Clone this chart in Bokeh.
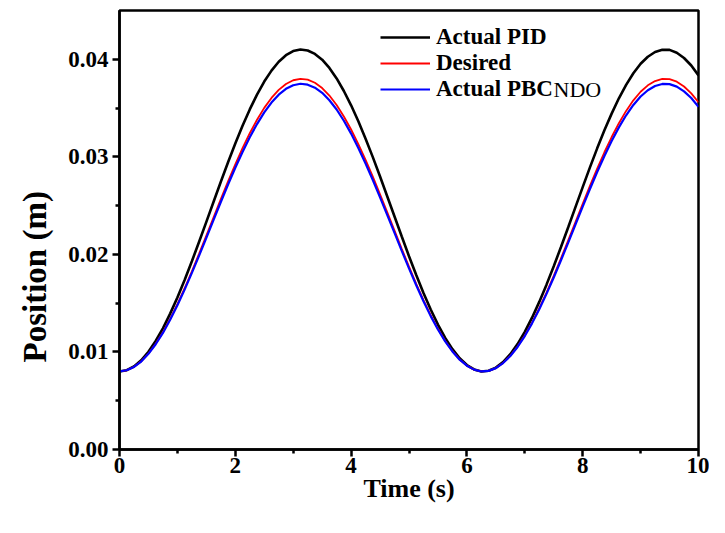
from bokeh.plotting import figure
from bokeh.models import Range1d, FixedTicker, PrintfTickFormatter, Label, Title
from bokeh.embed import file_html
from bokeh.resources import INLINE

time_s = [i * 0.125 for i in range(81)]
desired = [0.00800, 0.00812, 0.00847, 0.00904, 0.00984, 0.01084, 0.01202, 0.01339, 0.01490, 0.01653,
           0.01827, 0.02008, 0.02194, 0.02381, 0.02567, 0.02749, 0.02924, 0.03089, 0.03242, 0.03380,
           0.03502, 0.03604, 0.03686, 0.03747, 0.03785, 0.03800, 0.03791, 0.03759, 0.03705, 0.03628,
           0.03531, 0.03414, 0.03280, 0.03131, 0.02969, 0.02797, 0.02616, 0.02431, 0.02244, 0.02057,
           0.01874, 0.01699, 0.01532, 0.01377, 0.01237, 0.01113, 0.01008, 0.00923, 0.00860, 0.00819,
           0.00800, 0.00806, 0.00835, 0.00887, 0.00961, 0.01055, 0.01169, 0.01301, 0.01448, 0.01609,
           0.01780, 0.01960, 0.02144, 0.02332, 0.02518, 0.02702, 0.02879, 0.03047, 0.03203, 0.03345,
           0.03471, 0.03579, 0.03667, 0.03733, 0.03777, 0.03798, 0.03796, 0.03770, 0.03721, 0.03651,
           0.03559]
actual_pid = [0.00800, 0.00813, 0.00852, 0.00914, 0.01002, 0.01112, 0.01242, 0.01393, 0.01559, 0.01738,
              0.01930, 0.02129, 0.02333, 0.02539, 0.02744, 0.02944, 0.03136, 0.03318, 0.03486, 0.03638,
              0.03772, 0.03884, 0.03975, 0.04042, 0.04084, 0.04100, 0.04090, 0.04055, 0.03996, 0.03911,
              0.03804, 0.03675, 0.03528, 0.03364, 0.03186, 0.02997, 0.02798, 0.02594, 0.02388, 0.02183,
              0.01981, 0.01789, 0.01605, 0.01435, 0.01281, 0.01144, 0.01029, 0.00935, 0.00866, 0.00821,
              0.00800, 0.00807, 0.00839, 0.00896, 0.00977, 0.01081, 0.01206, 0.01351, 0.01513, 0.01690,
              0.01878, 0.02076, 0.02278, 0.02485, 0.02690, 0.02892, 0.03087, 0.03272, 0.03443, 0.03600,
              0.03738, 0.03857, 0.03954, 0.04026, 0.04075, 0.04098, 0.04096, 0.04067, 0.04013, 0.03936,
              0.03835]
actual_pbc = [0.00800, 0.00812, 0.00846, 0.00902, 0.00981, 0.01079, 0.01195, 0.01330, 0.01478, 0.01639,
              0.01810, 0.01988, 0.02170, 0.02354, 0.02537, 0.02716, 0.02888, 0.03050, 0.03201, 0.03336,
              0.03456, 0.03556, 0.03637, 0.03697, 0.03734, 0.03749, 0.03740, 0.03709, 0.03656, 0.03580,
              0.03485, 0.03370, 0.03238, 0.03091, 0.02932, 0.02763, 0.02585, 0.02403, 0.02220, 0.02036,
              0.01856, 0.01684, 0.01520, 0.01367, 0.01230, 0.01108, 0.01005, 0.00921, 0.00859, 0.00819,
              0.00800, 0.00806, 0.00834, 0.00886, 0.00958, 0.01051, 0.01163, 0.01293, 0.01437, 0.01595,
              0.01763, 0.01940, 0.02121, 0.02306, 0.02489, 0.02670, 0.02844, 0.03009, 0.03162, 0.03302,
              0.03426, 0.03532, 0.03618, 0.03683, 0.03726, 0.03747, 0.03745, 0.03720, 0.03671, 0.03603,
              0.03512]

x_major = [0, 2, 4, 6, 8, 10]
x_minor = [1, 3, 5, 7, 9]
y_major = [0.00, 0.01, 0.02, 0.03, 0.04]
y_minor = [0.005, 0.015, 0.025, 0.035]

FONT = "Liberation Serif"

p = figure(width=709, height=517, output_backend="svg", toolbar_location=None,
           x_range=Range1d(0, 10), y_range=Range1d(0, 0.045),
           min_border_left=119, min_border_right=11, min_border_top=10, min_border_bottom=68)
p.grid.visible = False
p.background_fill_color = "white"
p.border_fill_color = "white"
p.outline_line_color = "black"
p.outline_line_width = 2.5

p.line(time_s, actual_pid, color="black", line_width=2.6, legend_label="Actual PID")
p.line(time_s, desired, color="#ff0000", line_width=1.8, legend_label="Desired")
p.line(time_s, actual_pbc, color="#0000ff", line_width=2.2, legend_label="Actual PBC")

for ax, maj, mn in ((p.xaxis[0], x_major, x_minor), (p.yaxis[0], y_major, y_minor)):
    ax.ticker = FixedTicker(ticks=maj, minor_ticks=mn)
    ax.axis_line_width = 2.5
    ax.major_tick_line_width = 2.5
    ax.minor_tick_line_width = 2.5
    ax.major_tick_out = 7
    ax.major_tick_in = 0
    ax.minor_tick_out = 4
    ax.minor_tick_in = 0
    ax.major_label_text_font = FONT
    ax.major_label_text_font_style = "bold"
    ax.major_label_text_font_size = "23px"
    ax.major_label_text_color = "black"
    ax.axis_label_text_font = FONT
    ax.axis_label_text_font_style = "bold"
    ax.axis_label_text_color = "black"

p.yaxis[0].formatter = PrintfTickFormatter(format="%.2f")
p.xaxis[0].axis_label = "Time (s)"
p.xaxis[0].axis_label_text_font_size = "26px"
p.xaxis[0].major_label_standoff = 1
p.xaxis[0].axis_label_standoff = -2
p.yaxis[0].major_label_standoff = 4

# y-axis title, placed below the frame centre as in the reference
p.add_layout(Title(text="Position (m)", align="left", offset=87, standoff=26,
                   text_font=FONT, text_font_style="bold", text_font_size="33px",
                   text_color="black"), "left")

lg = p.legend[0]
lg.location = (261, 347)
lg.border_line_alpha = 0
lg.background_fill_alpha = 0
lg.padding = 0
lg.margin = 0
lg.spacing = 0
lg.glyph_width = 50
lg.glyph_height = 24
lg.label_height = 24
lg.label_standoff = 6
lg.label_text_font = FONT
lg.label_text_font_style = "bold"
lg.label_text_font_size = "23px"
lg.label_text_color = "black"

p.add_layout(Label(x=261 + 50 + 6 + 117, y=347 + 13.5, x_units="screen", y_units="screen",
                   text="NDO", text_font=FONT, text_font_size="22px",
                   text_baseline="middle", text_color="black"))

open("out.html", "w").write(file_html(p, INLINE))
